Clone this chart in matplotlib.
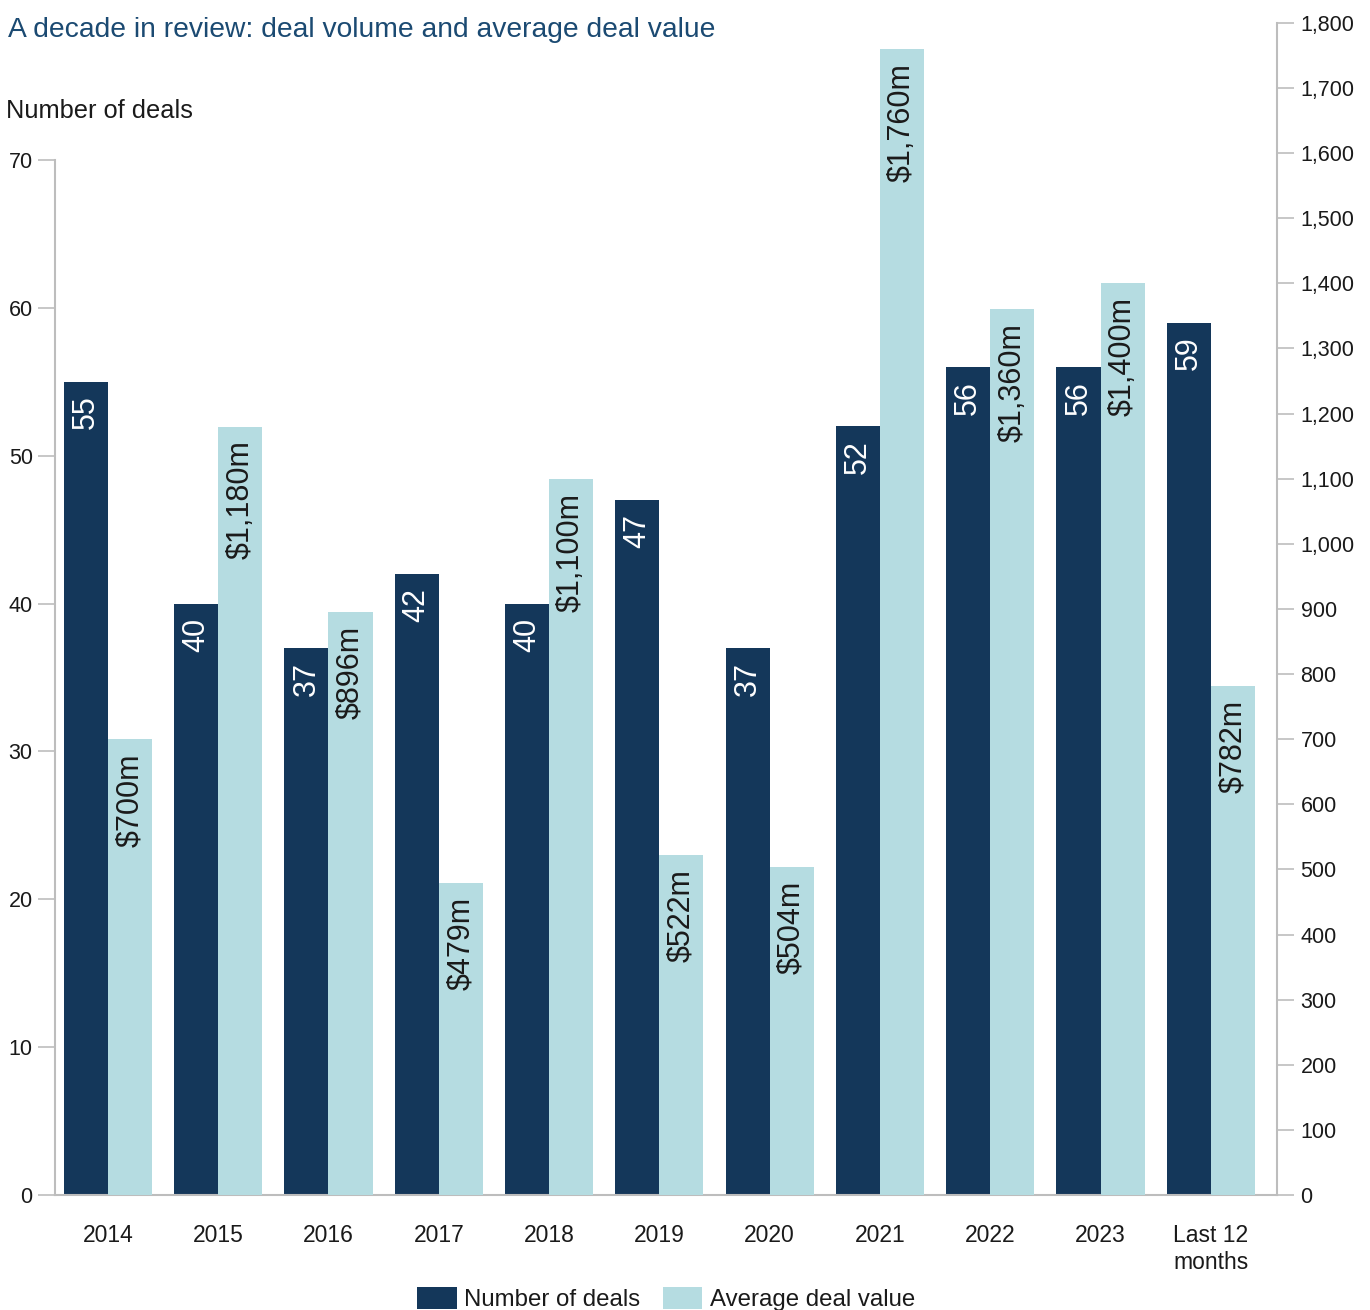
import matplotlib
matplotlib.use("Agg")
import matplotlib.pyplot as plt
from matplotlib.patches import Patch

plt.rcParams['font.family'] = ['Liberation Sans', 'DejaVu Sans']

categories = ["2014", "2015", "2016", "2017", "2018", "2019", "2020",
              "2021", "2022", "2023", "Last 12\nmonths"]
deals = [55, 40, 37, 42, 40, 47, 37, 52, 56, 56, 59]
avg_value = [700, 1180, 896, 479, 1100, 522, 504, 1760, 1360, 1400, 782]
value_labels = ["$700m", "$1,180m", "$896m", "$479m", "$1,100m", "$522m",
                "$504m", "$1,760m", "$1,360m", "$1,400m", "$782m"]

DARK = "#14375a"
LIGHT = "#b5dce1"
SPINE = "#bdbdbd"
TEXT = "#1a1a1a"

fig = plt.figure(figsize=(13.7, 13.1), dpi=100)
ax = fig.add_axes([0.0401, 0.0878, 0.892, 0.8947])
ax2 = ax.twinx()

x = list(range(len(categories)))
w = 0.4
x_dark = [i - w / 2 for i in x]
x_light = [i + w / 2 for i in x]

ax.bar(x_dark, deals, width=w, color=DARK, zorder=2)
ax2.bar(x_light, avg_value, width=w, color=LIGHT, zorder=2)

ax.set_xlim(-0.48, 10.6)
ax.set_ylim(0, 70 * 1172 / 1035)
ax2.set_ylim(0, 1800)

ax.set_yticks(range(0, 71, 10))
ax2.set_yticks(range(0, 1801, 100))
ax2.set_yticklabels([f"{v:,}" for v in range(0, 1801, 100)])

ax.set_xticks(x)
ax.set_xticklabels(categories, fontsize=16.5, color=TEXT, linespacing=1.2)
ax.tick_params(axis='x', length=0, pad=21)
ax.tick_params(axis='y', length=12, width=1.2, color=SPINE, labelsize=15.5,
               labelcolor=TEXT, pad=4)
ax2.tick_params(axis='y', length=12, width=1.2, color=SPINE, labelsize=15.5,
                labelcolor=TEXT, pad=5)

for a in (ax, ax2):
    a.spines["top"].set_visible(False)
    for s in ("left", "right", "bottom"):
        a.spines[s].set_color(SPINE)
        a.spines[s].set_linewidth(1.5)
ax.spines["right"].set_visible(False)
ax2.spines["left"].set_visible(False)
ax2.spines["bottom"].set_visible(False)
ax.spines["left"].set_bounds(0, 70)
ax.spines["bottom"].set_zorder(3)

# value labels inside the tops of the bars
for xi, v in zip(x_dark, deals):
    ax.annotate(str(v), (xi, v), xytext=(0, -10), textcoords="offset points",
                rotation=90, ha="center", va="top", color="white", fontsize=22)
for xi, v, lab in zip(x_light, avg_value, value_labels):
    ax2.annotate(lab, (xi, v), xytext=(0, -10), textcoords="offset points",
                 rotation=90, ha="center", va="top", color=TEXT, fontsize=22)

fig.text(8 / 1370, 1 - 30 / 1310, "A decade in review: deal volume and average deal value",
         fontsize=20.3, color="#1b4a72", ha="left", va="center")
fig.text(6 / 1370, 1 - 111 / 1310, "Number of deals", fontsize=18.3, color=TEXT,
         ha="left", va="center")

handles = [Patch(facecolor=DARK, label="Number of deals"),
           Patch(facecolor=LIGHT, label="Average deal value")]
fig.legend(handles=handles, loc="center", bbox_to_anchor=(666 / 1370, 1 - 1299 / 1310),
           ncol=2, frameon=False, fontsize=17.3, handlelength=1.65, handleheight=1.0,
           handletextpad=0.3, columnspacing=0.95, labelcolor=TEXT)

fig.savefig("out.png", dpi=100)
